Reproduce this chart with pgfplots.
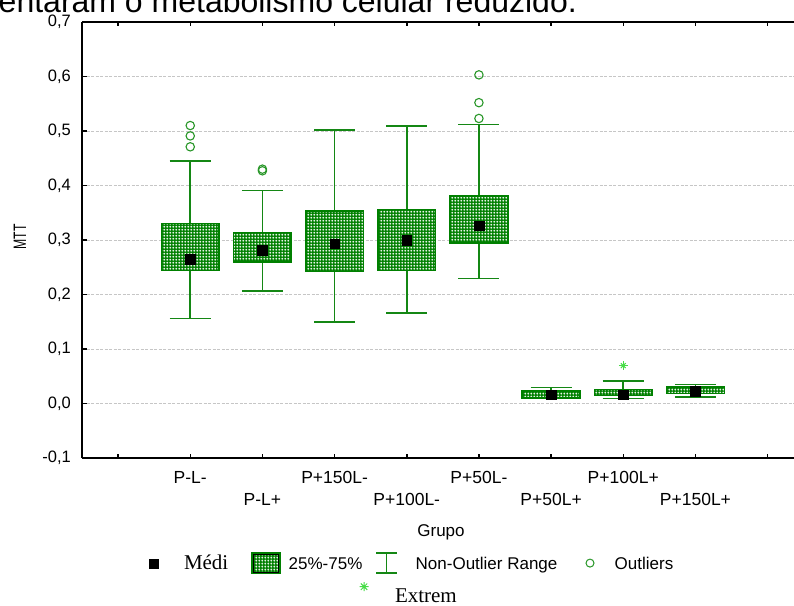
\documentclass[border=0pt]{standalone}
\usepackage{graphicx}
\usepackage{fontspec}
\setmainfont{Liberation Sans}
\newfontfamily\serif{Liberation Serif}
\usepackage{pgfplots}
\pgfplotsset{compat=1.18}
\usepgfplotslibrary{statistics}
\usetikzlibrary{patterns.meta}

\definecolor{boxgreen}{RGB}{0,128,0}
\definecolor{linegreen}{RGB}{20,135,20}
\definecolor{outgreen}{RGB}{40,150,40}
\definecolor{extgreen}{RGB}{70,220,70}

% white plus signs on the green box fill
\pgfdeclarepattern{
  name=pluses,
  type=uncolored,
  bottom left={\pgfpoint{0pt}{0pt}},
  top right={\pgfpoint{3.2pt}{3.2pt}},
  tile size={\pgfpoint{3.2pt}{3.2pt}},
  code={
    \pgfsetlinewidth{0.8pt}
    \pgfpathmoveto{\pgfpoint{0.5pt}{1.6pt}}
    \pgfpathlineto{\pgfpoint{2.7pt}{1.6pt}}
    \pgfpathmoveto{\pgfpoint{1.6pt}{0.5pt}}
    \pgfpathlineto{\pgfpoint{1.6pt}{2.7pt}}
    \pgfusepath{stroke}
  }
}

% second row of staggered category labels
\newcommand\low[1]{\raisebox{-21.5pt}[0pt][0pt]{#1}}

\pgfplotsset{
  mybox/.style={
    solid, draw=linegreen, line width=1.6pt, mark=none, forget plot,
    boxplot/draw direction=y,
    boxplot/every box/.style={fill=boxgreen, draw=boxgreen,
      postaction={pattern=pluses, pattern color=white},
      postaction={draw=boxgreen, line width=1.6pt}},
    boxplot/every median/.style={draw=none},
  },
}

\begin{document}
\begin{tikzpicture}
\node[anchor=base east, inner sep=0pt, font=\fontsize{32}{38}\selectfont]
  at (577pt,592pt) {entaram o metabolismo celular reduzido.};

\begin{axis}[
  at={(82pt,147pt)}, anchor=south west,
  width=712pt, height=436pt, scale only axis,
  xmin=-0.5, xmax=9.366, ymin=-0.1, ymax=0.7,
  enlargelimits=false,
  axis y line*=left,
  axis line style={line width=1.5pt, black},
  tick style={line width=1.5pt, black},
  tick align=inside, major tick length=4.5pt,
  xtick={0,1,2,3,4,5,6,7,8,9},
  xticklabels={{},{P-L-},{\low{P-L+}},{P+150L-},{\low{P+100L-}},{P+50L-},{\low{P+50L+}},{P+100L+},{\low{P+150L+}},{}},
  xticklabel style={font=\fontsize{17.5}{20}\selectfont, inner sep=0pt,
    text height=12.5pt, text depth=0pt, anchor=north, yshift=-13pt},
  ytick={-0.1,0,0.1,0.2,0.3,0.4,0.5,0.6,0.7},
  /pgf/number format/assume math mode=true,
  yticklabel style={font=\fontsize{16.5}{19}\selectfont, inner sep=0pt, xshift=-11pt,
    /pgf/number format/fixed, /pgf/number format/fixed zerofill,
    /pgf/number format/precision=1, /pgf/number format/use comma},
  ymajorgrids,
  major grid style={draw=gray!45, dash pattern=on 3pt off 1.5pt, line width=0.9pt},
  xlabel={Grupo},
  xlabel style={at={(axis description cs:0.5042,-0.1789)}, anchor=base,
    font=\fontsize{17}{20}\selectfont},
  ylabel={\fontsize{18}{21}\selectfont\scalebox{0.68}[1]{MTT}},
  ylabel style={at={(axis description cs:-0.0871,0.5069)}, anchor=center},
  legend columns=4,
  legend cell align=left,
  legend style={at={(axis description cs:0.081461,-0.215596)}, anchor=north west,
    draw=none, fill=none, inner sep=0pt, outer sep=0pt,
    column sep=0pt, row sep=11pt,
    font=\fontsize{17}{20}\selectfont,
    nodes={inner sep=0pt, text height=12pt, text depth=0pt}},
]

% boxes: whiskers, quartiles (non-outlier range and 25%-75%)
\addplot[mybox, boxplot prepared={draw position=1, lower whisker=0.156, lower quartile=0.244,
  median=0.265, upper quartile=0.330, upper whisker=0.445, box extend=0.8, whisker extend=0.57}] coordinates {};
\addplot[mybox, boxplot prepared={draw position=2, lower whisker=0.206, lower quartile=0.260,
  median=0.281, upper quartile=0.314, upper whisker=0.391, box extend=0.8, whisker extend=0.57}] coordinates {};
\addplot[mybox, boxplot prepared={draw position=3, lower whisker=0.150, lower quartile=0.242,
  median=0.293, upper quartile=0.353, upper whisker=0.502, box extend=0.8, whisker extend=0.57}] coordinates {};
\addplot[mybox, boxplot prepared={draw position=4, lower whisker=0.166, lower quartile=0.244,
  median=0.300, upper quartile=0.356, upper whisker=0.509, box extend=0.8, whisker extend=0.57}] coordinates {};
\addplot[mybox, boxplot prepared={draw position=5, lower whisker=0.229, lower quartile=0.294,
  median=0.326, upper quartile=0.381, upper whisker=0.512, box extend=0.8, whisker extend=0.57}] coordinates {};
\addplot[mybox, boxplot prepared={draw position=6, lower whisker=0.009, lower quartile=0.0105,
  median=0.0165, upper quartile=0.023, upper whisker=0.029, box extend=0.8, whisker extend=0.57}] coordinates {};
\addplot[mybox, boxplot prepared={draw position=7, lower whisker=0.009, lower quartile=0.0145,
  median=0.016, upper quartile=0.026, upper whisker=0.041, box extend=0.8, whisker extend=0.57}] coordinates {};
\addplot[mybox, boxplot prepared={draw position=8, lower whisker=0.012, lower quartile=0.018,
  median=0.023, upper quartile=0.030, upper whisker=0.035, box extend=0.8, whisker extend=0.57}] coordinates {};

% medians
\addplot[forget plot, only marks, mark=square*, mark size=4.8pt, black] coordinates {
  (1,0.265) (2,0.281) (3,0.293) (4,0.300) (5,0.326) (6,0.0165) (7,0.016) (8,0.023)};

% outliers
\addplot[forget plot, only marks, mark=o, mark size=4.2pt, outgreen, line width=1.1pt] coordinates {
  (1,0.510) (1,0.491) (1,0.471) (2,0.430) (2,0.427) (5,0.603) (5,0.552) (5,0.523)};

% extremes
\addplot[forget plot, only marks, mark=+, mark size=4.5pt, extgreen, line width=1pt] coordinates {(7,0.0696)};
\addplot[forget plot, only marks, mark=x, mark size=3.4pt, extgreen, line width=1pt] coordinates {(7,0.0696)};

% legend
\addlegendimage{legend image code/.code={
  \path[draw=none, fill=none] (0pt,-11pt) rectangle (44pt,11pt);
  \fill[black] (9.5pt,-5pt) rectangle (18.5pt,4pt);}}
\addlegendentry{\makebox[64pt][l]{\serif\fontsize{21}{24}\selectfont Médi}}
\addlegendimage{legend image code/.code={
  \path[draw=none, fill=none] (0pt,-11pt) rectangle (40.7pt,11pt);
  \fill[boxgreen] (4pt,-10.5pt) rectangle (32pt,10.5pt);
  \fill[pattern=pluses, pattern color=white] (5.5pt,-9pt) rectangle (30.5pt,9pt);
  \draw[boxgreen, line width=1.2pt] (4pt,-10.5pt) rectangle (32pt,10.5pt);}}
\addlegendentry{\makebox[83.3pt][l]{25\%-75\%}}
\addlegendimage{legend image code/.code={
  \path[draw=none, fill=none] (0pt,-11pt) rectangle (43.7pt,11pt);
  \draw[linegreen, line width=1.5pt] (4pt,10pt)--(25pt,10pt) (4pt,-10pt)--(25pt,-10pt)
    (14.5pt,-10pt)--(14.5pt,10pt);}}
\addlegendentry{\makebox[166.3pt][l]{Non-Outlier Range}}
\addlegendimage{legend image code/.code={
  \path[draw=none, fill=none] (0pt,-11pt) rectangle (32.7pt,11pt);
  \draw[outgreen, line width=1pt] (8pt,0pt) circle (4pt);}}
\addlegendentry{Outliers}
\addlegendimage{empty legend}
\addlegendentry{}
\addlegendimage{empty legend}
\addlegendentry{}
\addlegendimage{legend image code/.code={
  \path[draw=none, fill=none] (0pt,-11pt) rectangle (0pt,11pt);
  \draw[overlay, extgreen, line width=1pt] (-12.5pt,9.5pt)--(-3.5pt,9.5pt)
    (-8pt,5pt)--(-8pt,14pt) (-11.2pt,6.3pt)--(-4.8pt,12.7pt) (-11.2pt,12.7pt)--(-4.8pt,6.3pt);}}
\addlegendentry{\hspace*{-20.7pt}\serif\fontsize{21}{24}\selectfont Extrem}
\end{axis}

\pgfresetboundingbox
\path[use as bounding box] (0pt,0pt) rectangle (794pt,605pt);
\end{tikzpicture}
\end{document}
